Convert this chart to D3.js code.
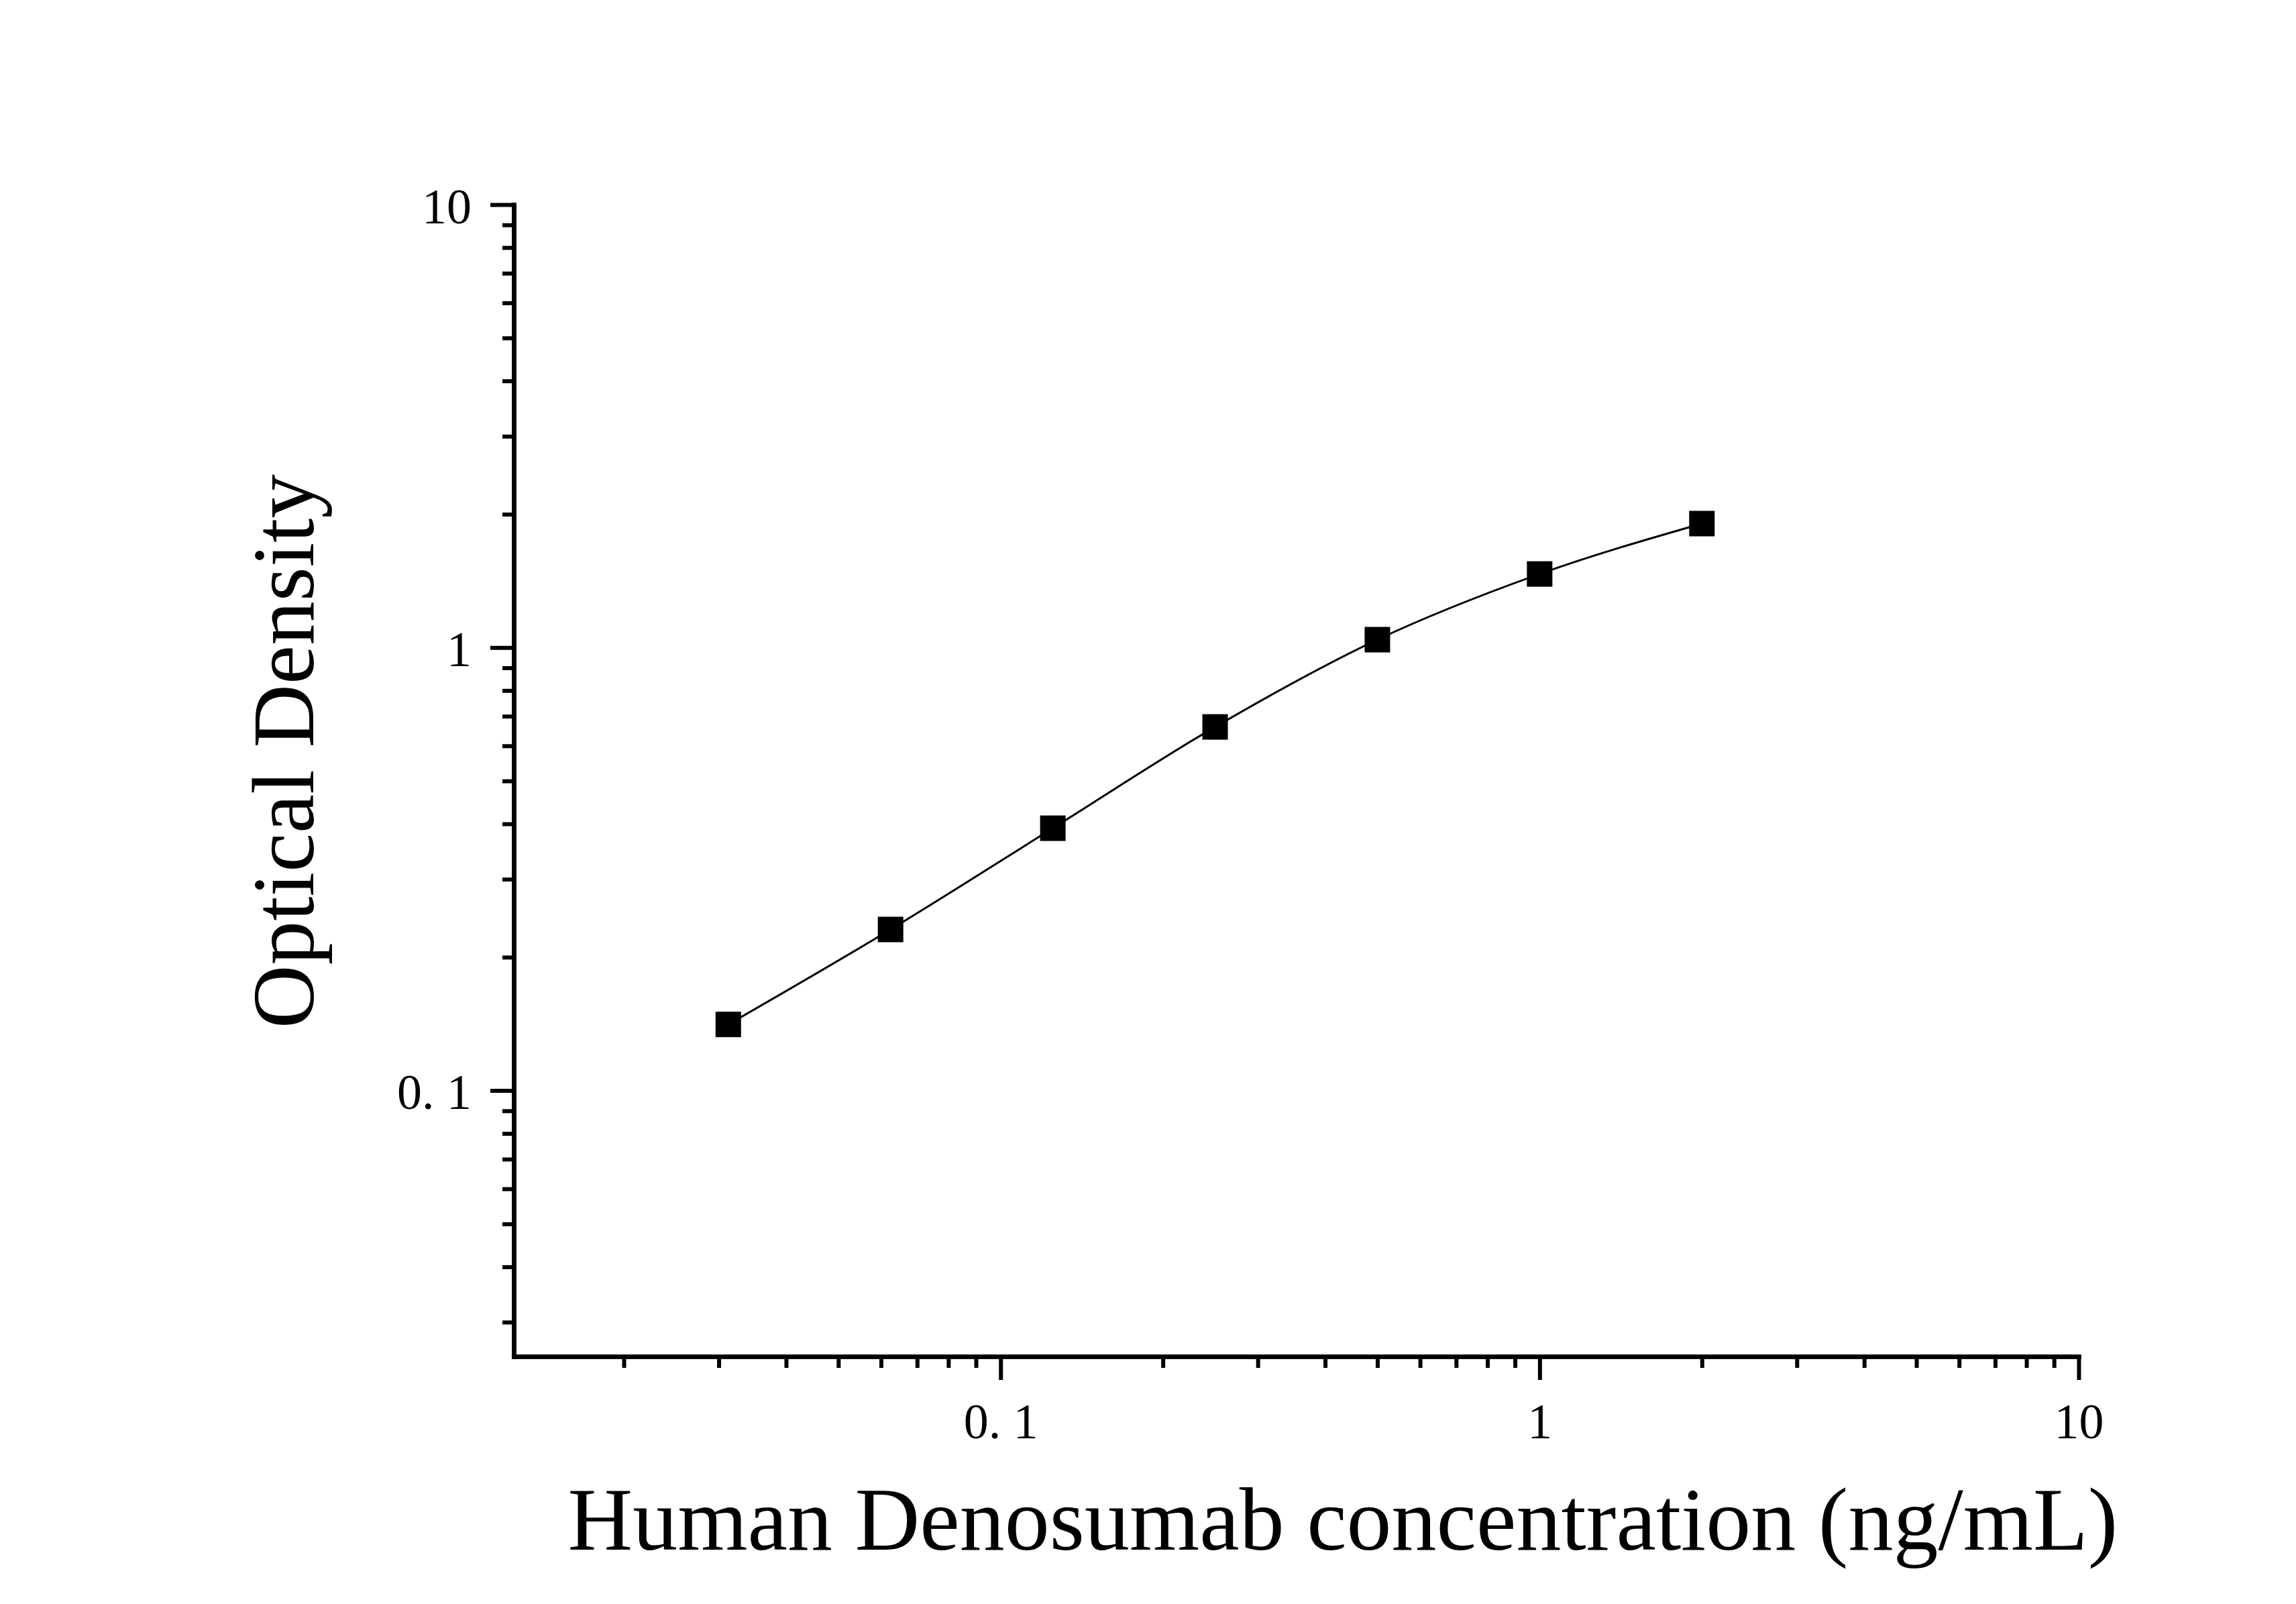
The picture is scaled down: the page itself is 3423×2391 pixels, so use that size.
<!DOCTYPE html>
<html>
<head>
<meta charset="utf-8">
<script src="https://cdn.jsdelivr.net/npm/d3@7"></script>
<style>
  body { margin: 0; background: #fff; }
  svg { display: block; }
</style>
</head>
<body>
<svg id="chart" width="3423" height="2391"></svg>
<script>
// standard curve data
var concentrations = [0.03125, 0.0625, 0.125, 0.25, 0.5, 1, 2];
var opticalDensity = [0.141, 0.231, 0.391, 0.662, 1.042, 1.466, 1.905];

var xMajorTicks = [0.1, 1, 10];
var xMajorLabels = ["0. 1", "1", "10"];
var xMinorTicks = [0.02, 0.03, 0.04, 0.05, 0.06, 0.07, 0.08, 0.09,
                   0.2, 0.3, 0.4, 0.5, 0.6, 0.7, 0.8, 0.9,
                   2, 3, 4, 5, 6, 7, 8, 9];
var yMajorTicks = [0.1, 1, 10];
var yMajorLabels = ["0. 1", "1", "10"];
var yMinorTicks = [0.03, 0.04, 0.05, 0.06, 0.07, 0.08, 0.09,
                   0.2, 0.3, 0.4, 0.5, 0.6, 0.7, 0.8, 0.9,
                   2, 3, 4, 5, 6, 7, 8, 9];

var xTitle = "Human Denosumab concentration (ng/mL)";
var yTitle = "Optical Density";

var margin = {top: 305, right: 324, bottom: 369, left: 766},
    width = 3423 - margin.left - margin.right,
    height = 2391 - margin.top - margin.bottom;

var font = "'Liberation Serif', 'Times New Roman', serif";

var svg = d3.select("#chart");

var g = svg.append("g")
    .attr("transform", "translate(" + margin.left + "," + margin.top + ")");

var xScale = d3.scaleLog()
    .domain([0.0125, 10])
    .range([0, width]);

var yScale = d3.scaleLog()
    .domain([0.0251, 10])
    .range([height, 0]);

function styleAxis(sel) {
  sel.select(".domain")
    .attr("stroke", "#000")
    .attr("stroke-width", 6.5)
    .attr("stroke-linecap", "square");
  sel.selectAll(".tick line")
    .attr("stroke", "#000")
    .attr("stroke-width", 6);
  sel.selectAll(".tick text")
    .attr("fill", "#000")
    .style("font-family", font)
    .style("font-size", "74px");
}

// minor ticks first, then majors with labels
g.append("g")
    .attr("transform", "translate(0," + height + ")")
    .call(d3.axisBottom(xScale).tickValues(xMinorTicks).tickSize(17).tickSizeOuter(0).tickFormat(""))
    .call(styleAxis);

g.append("g")
    .attr("transform", "translate(0," + height + ")")
    .call(d3.axisBottom(xScale)
      .tickValues(xMajorTicks)
      .tickSize(35)
      .tickSizeOuter(0)
      .tickPadding(34)
      .tickFormat(function(d, i){ return xMajorLabels[i]; }))
    .call(styleAxis);

g.append("g")
    .call(d3.axisLeft(yScale).tickValues(yMinorTicks).tickSize(17).tickSizeOuter(0).tickFormat(""))
    .call(styleAxis);

var yAxisMajor = g.append("g")
    .call(d3.axisLeft(yScale)
      .tickValues(yMajorTicks)
      .tickSize(35)
      .tickSizeOuter(0)
      .tickPadding(28)
      .tickFormat(function(d, i){ return yMajorLabels[i]; }))
    .call(styleAxis);

yAxisMajor.selectAll(".tick text").attr("dy", "0.37em");

// fitted curve through the standards
var line = d3.line()
    .x(function(d){ return xScale(d[0]); })
    .y(function(d){ return yScale(d[1]); })
    .curve(d3.curveMonotoneX);

g.append("path")
    .datum(concentrations.map(function(c, i){ return [c, opticalDensity[i]]; }))
    .attr("fill", "none")
    .attr("stroke", "#000")
    .attr("stroke-width", 3)
    .attr("d", line);

var markerSize = 38;

g.selectAll(".point")
    .data(concentrations)
    .enter()
    .append("rect")
    .attr("class", "point")
    .attr("x", function(d){ return xScale(d) - markerSize / 2; })
    .attr("y", function(d, i){ return yScale(opticalDensity[i]) - markerSize / 2; })
    .attr("width", markerSize)
    .attr("height", markerSize)
    .attr("fill", "#000");

// axis titles
svg.append("text")
    .attr("x", 2002)
    .attr("y", 2310)
    .attr("text-anchor", "middle")
    .style("font-family", font)
    .style("font-size", "134px")
    .attr("fill", "#000")
    .text(xTitle);

svg.append("text")
    .attr("transform", "translate(467,1120) rotate(-90)")
    .attr("text-anchor", "middle")
    .style("font-family", font)
    .style("font-size", "131px")
    .attr("fill", "#000")
    .text(yTitle);
</script>
</body>
</html>
